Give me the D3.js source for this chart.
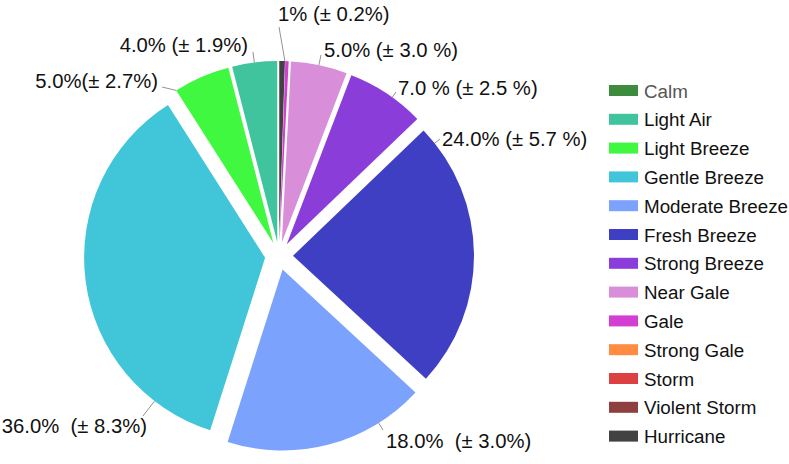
<!DOCTYPE html>
<html>
<head>
<meta charset="utf-8">
<script src="https://cdn.jsdelivr.net/npm/d3@7"></script>
<style>
  body { margin: 0; background: #fff; }
  text { font-family: "Liberation Sans", Arial, sans-serif; }
</style>
</head>
<body>
<div id="chart"></div>
<script>
// wind classes, in legend order
var categories = ["Calm", "Light Air", "Light Breeze", "Gentle Breeze", "Moderate Breeze",
  "Fresh Breeze", "Strong Breeze", "Near Gale", "Gale", "Strong Gale", "Storm",
  "Violent Storm", "Hurricane"];
var values = [0, 4, 5, 36, 18, 24, 7, 5, 0.3, 0, 0, 0, 0.5];
var labels = ["", "4.0% (± 1.9%)", "5.0%(± 2.7%)", "36.0%  (± 8.3%)", "18.0%  (± 3.0%)",
  "24.0% (± 5.7 %)", "7.0 % (± 2.5 %)", "5.0% (± 3.0 %)", "", "", "", "", "1% (± 0.2%)"];
var colors = ["#3d8b3d", "#40c49e", "#40f840", "#41c5d8", "#7ba2fc", "#3f3fc4", "#8a3dd8",
  "#d98ed9", "#d33fd3", "#ff8c40", "#dc4040", "#8e3f3f", "#424242"];

// label placement: text x, baseline y, anchor, leader start x, y
var labelPos = {
  "Light Air":       [248, 52, "end", 253, 52],
  "Light Breeze":    [158, 88, "end", 162, 87],
  "Gentle Breeze":   [147, 433, "end", 143, 416],
  "Moderate Breeze": [386, 448, "start", 383, 430],
  "Fresh Breeze":    [442, 146, "start", 440, 139],
  "Strong Breeze":   [398, 95, "start", 396, 92],
  "Near Gale":       [324, 57, "start", 321, 55],
  "Hurricane":       [278, 21, "start", 279, 27]
};

var width = 789, height = 464;
var cx = 279, cy = 256, radius = 181, explode = 14;

var svg = d3.select("#chart").append("svg")
  .attr("width", width).attr("height", height);

var data = categories.map(function(c, i) {
  return { name: c, value: values[i], color: colors[i], label: labels[i] };
}).reverse();

var pie = d3.pie().sort(null).value(function(d) { return d.value; });
var arc = d3.arc().innerRadius(0).outerRadius(radius);
var arcs = pie(data);

var g = svg.append("g").attr("transform", "translate(" + cx + "," + cy + ")");

function offset(a) {
  var mid = (a.startAngle + a.endAngle) / 2;
  return [Math.sin(mid) * explode, -Math.cos(mid) * explode];
}

g.selectAll("path.slice")
  .data(arcs.filter(function(a) { return a.value > 0; }))
  .enter().append("path")
  .attr("class", "slice")
  .attr("d", arc)
  .attr("fill", function(a) { return a.data.color; })
  .attr("transform", function(a) { var o = offset(a); return "translate(" + o[0] + "," + o[1] + ")"; });

// labels with leader lines
arcs.forEach(function(a) {
  var p = labelPos[a.data.name];
  if (!p || !a.data.label) return;
  var o = offset(a);
  var sx = cx + o[0], sy = cy + o[1];
  var ang = Math.atan2(p[3] - sx, -(p[4] - sy));
  if (ang < 0) ang += 2 * Math.PI;
  ang = Math.max(a.startAngle, Math.min(a.endAngle, ang));
  var ex = sx + Math.sin(ang) * radius, ey = sy - Math.cos(ang) * radius;
  svg.append("line")
    .attr("x1", p[3]).attr("y1", p[4]).attr("x2", ex).attr("y2", ey)
    .attr("stroke", "#777").attr("stroke-width", 0.8);
  svg.append("text")
    .attr("x", p[0]).attr("y", p[1])
    .attr("text-anchor", p[2])
    .style("white-space", "pre")
    .attr("font-size", "20.3px")
    .attr("fill", "#111")
    .text(a.data.label);
});

// legend
var legend = svg.append("g").attr("transform", "translate(609,91)");
var row = legend.selectAll("g").data(categories).enter().append("g")
  .attr("transform", function(d, i) { return "translate(0," + (i * 28.8) + ")"; });
row.append("rect")
  .attr("x", 0).attr("y", -6).attr("width", 29).attr("height", 11)
  .attr("fill", function(d, i) { return colors[i]; });
row.append("text")
  .attr("x", 35).attr("y", 0).attr("dy", "0.35em")
  .attr("font-size", "18.8px")
  .attr("fill", function(d, i) { return i === 0 ? "#555" : "#111"; })
  .text(function(d) { return d; });
</script>
</body>
</html>
